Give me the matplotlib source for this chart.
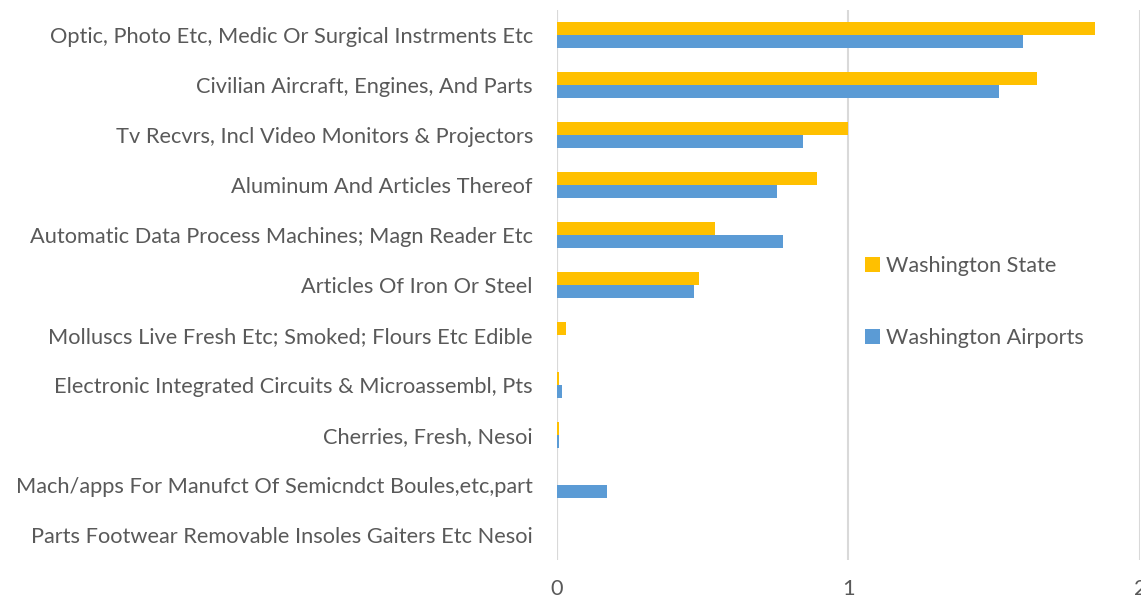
import numpy as np
import matplotlib.pyplot as plt

# categories, top to bottom as shown
categories = [
    "Optic, Photo Etc, Medic Or Surgical Instrments Etc",
    "Civilian Aircraft, Engines, And Parts",
    "Tv Recvrs, Incl Video Monitors & Projectors",
    "Aluminum And Articles Thereof",
    "Automatic Data Process Machines; Magn Reader Etc",
    "Articles Of Iron Or Steel",
    "Molluscs Live Fresh Etc; Smoked; Flours Etc Edible",
    "Electronic Integrated Circuits & Microassembl, Pts",
    "Cherries, Fresh, Nesoi",
    "Mach/apps For Manufct Of Semicndct Boules,etc,part",
    "Parts Footwear Removable Insoles Gaiters Etc Nesoi",
]
washington_state = [1.846, 1.647, 1.0, 0.893, 0.544, 0.488, 0.034, 0.010, 0.008, 0.001, 0.0005]
washington_airports = [1.598, 1.515, 0.846, 0.755, 0.778, 0.473, 0.001, 0.018, 0.008, 0.173, 0.002]
x_ticks = [0, 1, 2]

STATE_COL = "#FFC000"
AIRPORT_COL = "#5B9BD5"
TEXT_COL = "#595959"
GRID_COL = "#D9D9D9"

plt.rcParams['font.family'] = ['Lato', 'DejaVu Sans']

fig = plt.figure(figsize=(11.41, 6.02), dpi=100)
ax = fig.add_axes([556.5 / 1141, 1 - 560 / 602, (1140 - 556.5) / 1141, 550 / 602])

n = len(categories)
y = np.arange(n)[::-1]
h = 0.26
b1 = ax.barh(y + h / 2, washington_state, height=h, color=STATE_COL, label="Washington State", zorder=3)
b2 = ax.barh(y - h / 2, washington_airports, height=h, color=AIRPORT_COL, label="Washington Airports", zorder=3)

ax.set_xlim(0, 2)
ax.set_ylim(-0.5, n - 0.5)
ax.set_yticks(y)
ax.set_yticklabels(categories, fontsize=15.7, color=TEXT_COL)
ax.set_xticks(x_ticks)
ax.set_xticklabels([str(t) for t in x_ticks], fontsize=15.7, color=TEXT_COL)
ax.tick_params(axis='both', length=0)
ax.tick_params(axis='y', pad=17)
ax.tick_params(axis='x', pad=14)

for s in ax.spines.values():
    s.set_visible(False)
ax.xaxis.grid(True, color=GRID_COL, linewidth=1.5, zorder=0)
ax.axvline(0, color=GRID_COL, linewidth=1.5, zorder=1)

ax.legend(handles=[b1, b2], loc='upper left', bbox_to_anchor=(0.495, 0.588),
          frameon=False, fontsize=15.6, labelcolor=TEXT_COL, labelspacing=2.4,
          handlelength=0.7, handleheight=0.7, handletextpad=0.3)

plt.savefig("out.png", dpi=100)
